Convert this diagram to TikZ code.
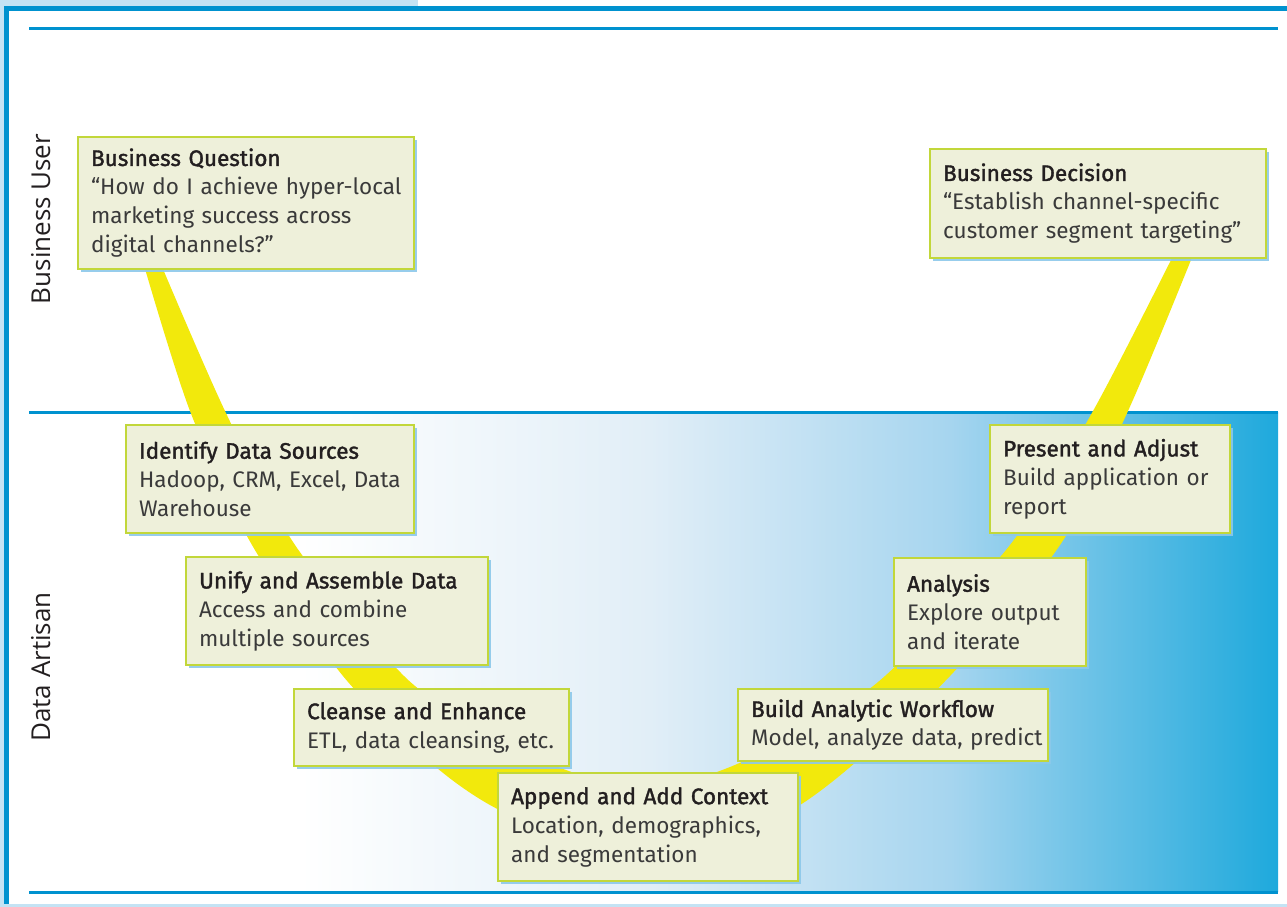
\documentclass[tikz,border=0pt]{standalone}
\usepackage{fontspec}
\setmainfont{Fira Sans}
\newfontfamily\headfont{Fira Sans}[FakeBold=1.6]
\newfontfamily\labelfont{Open Sans}
\usetikzlibrary{shadows}
\definecolor{frameblue}{HTML}{0092CF}
\definecolor{tabblue}{HTML}{C4E3F4}
\definecolor{bandyellow}{HTML}{F2E90C}
\definecolor{boxfill}{HTML}{EEF0DA}
\definecolor{boxline}{HTML}{C2D73A}
\definecolor{shadowblue}{HTML}{8CC8EA}
\definecolor{gradA}{HTML}{E1EEF7}
\definecolor{gradB}{HTML}{A6D5EF}
\definecolor{gradC}{HTML}{1EA9DC}
\definecolor{headc}{HTML}{231F20}
\definecolor{bodyc}{HTML}{3A3A3A}
\newcommand{\hd}[1]{{\color{headc}\headfont #1}}
\newcommand{\tline}[1]{\mbox{#1}}
\tikzset{
  stepbox/.style={draw=boxline, line width=2.2pt, fill=boxfill, anchor=north west,
    inner xsep=13pt, inner ysep=0pt, align=left,
    font=\fontsize{22.5}{29}\selectfont, text=bodyc,
    drop shadow={shadow xshift=2.5pt, shadow yshift=-2.5pt, fill=shadowblue, opacity=0.9}},
  sidelabel/.style={rotate=90, anchor=base, font=\labelfont\fontsize{26}{30}\selectfont, text=headc},
  rulebar/.style={draw=frameblue, line width=3pt},
}
\begin{document}
\begin{tikzpicture}[x=1pt,y=-1pt]
\useasboundingbox (0,0) rectangle (1287,907);
% frame
\fill[tabblue] (0,0) rectangle (418,7);
\fill[tabblue] (0,0) rectangle (4,907);
\fill[tabblue] (0,904) rectangle (1287,907);
\fill[frameblue] (4,6) rectangle (1287,11);
\fill[frameblue] (4,6) rectangle (9,904);
% data artisan background
\shade[left color=white, right color=gradA] (299.5,412) rectangle (650.5,891);
\shade[left color=gradA, right color=gradB] (650,412) rectangle (950.5,891);
\shade[left color=gradB, right color=gradC] (950,412) rectangle (1278,891);
% rules
\coordinate (r1a) at (29,28.5);  \coordinate (r1b) at (1278,28.5);
\coordinate (r2a) at (29,412);   \coordinate (r2b) at (1278,412);
\coordinate (r3a) at (29,892.5); \coordinate (r3b) at (1278,892.5);
\draw[rulebar] (r1a) -- (r1b);
\draw[rulebar] (r2a) -- (r2b);
\draw[rulebar] (r3a) -- (r3b);
% side labels
\node[sidelabel] (bu) at (50,219) {Business User};
\node[sidelabel] (da) at (50,667) {Data Artisan};
% yellow band
\fill[bandyellow] plot[smooth] coordinates {(143,262) (190,411) (252,545) (343,676) (430,762) (490,805) (560,835) (650,848) (740,835) (800,805) (856,762) (950,676) (1060,545) (1128,411) (1195,250)}
  -- plot[smooth] coordinates {(1176,250) (1093,411) (1010,545) (885,676) (810,725) (730,767) (645,790) (558,767) (480,727) (404,676) (295,545) (225,411) (160,262)} -- cycle;
% boxes
\node[stepbox, text width=310pt, minimum height=132pt] (bq) at (77,136)
  {\hd{Business Question}\\\tline{“How do I achieve hyper-local}\\\tline{marketing success across}\\\tline{digital channels?”}};
\node[stepbox, text width=310pt, minimum height=109pt] (bd) at (929,148)
  {\hd{Business Decision}\\\tline{“Establish channel-specific}\\\tline{customer segment targeting”}};
\node[stepbox, text width=262pt, minimum height=108pt] (ids) at (125,424)
  {\hd{Identify Data Sources}\\\tline{Hadoop, CRM, Excel, Data}\\\tline{Warehouse}};
\node[stepbox, text width=276pt, minimum height=108pt] (uad) at (185,556)
  {\hd{Unify and Assemble Data}\\\tline{Access and combine}\\\tline{multiple sources}};
\node[stepbox, text width=249pt, minimum height=77pt] (ce) at (293,688)
  {\hd{Cleanse and Enhance}\\\tline{ETL, data cleansing, etc.}};
\node[stepbox, text width=274pt, minimum height=108pt] (aac) at (497,772)
  {\hd{Append and Add Context}\\\tline{Location, demographics,}\\\tline{and segmentation}};
\node[stepbox, text width=284pt, minimum height=72pt] (baw) at (737,688)
  {\hd{Build Analytic Workflow}\\\tline{Model, analyze data, predict}};
\node[stepbox, text width=166pt, minimum height=108pt] (an) at (893,557)
  {\hd{Analysis}\\\tline{Explore output}\\\tline{and iterate}};
\node[stepbox, text width=214pt, minimum height=108pt] (pa) at (989,424)
  {\hd{Present and Adjust}\\\tline{Build application or}\\\tline{report}};
\end{tikzpicture}
\end{document}
